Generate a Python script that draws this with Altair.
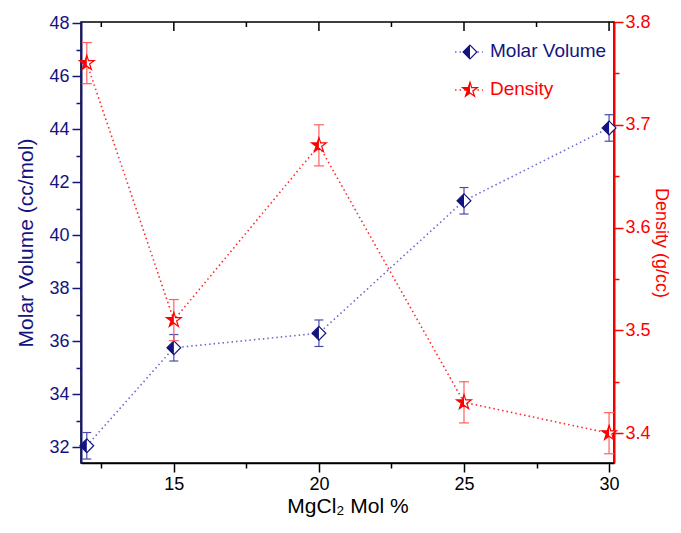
import altair as alt
import pandas as pd

# ---- data ----
mol_pct = [12, 15, 20, 25, 30]
molar_volume = [32.05, 35.75, 36.3, 41.3, 44.05]
molar_volume_err = [0.5, 0.5, 0.5, 0.5, 0.5]
density = [3.76, 3.51, 3.68, 3.43, 3.40]
density_err = [0.02, 0.02, 0.02, 0.02, 0.02]

x_ticks = [12.5, 15, 17.5, 20, 22.5, 25, 27.5, 30]
mv_ticks = list(range(32, 49))
den_ticks = [3.40, 3.45, 3.50, 3.55, 3.60, 3.65, 3.70, 3.75, 3.80]

df = pd.DataFrame({
    "x": mol_pct,
    "mv": molar_volume,
    "mv_lo": [v - e for v, e in zip(molar_volume, molar_volume_err)],
    "mv_hi": [v + e for v, e in zip(molar_volume, molar_volume_err)],
    "den": density,
    "den_lo": [v - e for v, e in zip(density, density_err)],
    "den_hi": [v + e for v, e in zip(density, density_err)],
})
ticks_df = pd.DataFrame({"t": x_ticks})
one = pd.DataFrame({"a": [0]})

NAVY = "#14147f"
NAVY_LINE = "#6a6ad0"
NAVY_ERR = "#4a4aae"
RED = "#ff0000"
RED_LINE = "#ff2a2a"
RED_ERR = "#ff6060"
FONT = "Liberation Sans"
LABEL_SIZE = 18
TITLE_SIZE = 21

DIAMOND = "M0,-1L1,0L0,1L-1,0Z"
DIAMOND_HALF = "M0,-1L-1,0L0,1Z"
STAR = ("M0,-1L0.225,-0.309L0.951,-0.309L0.363,0.118L0.588,0.809L0,0.382"
        "L-0.588,0.809L-0.363,0.118L-0.951,-0.309L-0.225,-0.309Z")
STAR_HALF = "M0,-1L0,0.382L-0.588,0.809L-0.363,0.118L-0.951,-0.309L-0.225,-0.309Z"

xs = alt.Scale(domain=[11.8, 30.17], nice=False, zero=False)
ys_mv = alt.Scale(domain=[31.4, 48.05], nice=False, zero=False)
ys_den = alt.Scale(domain=[3.371, 3.8], nice=False, zero=False)

x_axis = alt.Axis(
    values=x_ticks,
    labelExpr="datum.value % 5 === 0 ? datum.label : ''",
    tickSize={"condition": {"test": "datum.value % 5 === 0", "value": 9}, "value": 5},
    tickColor="black", tickWidth=1.5, domainColor="black", domainWidth=1.5,
    labelColor="black", labelFont=FONT, labelFontSize=LABEL_SIZE, labelPadding=3,
    labelFlush=False, labelOverlap=False, grid=False,
    title="MgCl₂ Mol %", titleFont=FONT, titleFontSize=TITLE_SIZE, titleFontWeight="normal",
    titleColor="black", titlePadding=2,
)
mv_axis = alt.Axis(
    orient="left", values=mv_ticks,
    labelExpr="datum.value % 2 === 0 ? datum.label : ''",
    tickSize={"condition": {"test": "datum.value % 2 === 0", "value": 9}, "value": 5},
    tickColor=NAVY, tickWidth=1.5, domainColor=NAVY, domainWidth=2,
    labelColor=NAVY, labelFont=FONT, labelFontSize=LABEL_SIZE, labelPadding=3,
    labelFlush=False, labelOverlap=False, grid=False,
    title="Molar Volume (cc/mol)", titleFont=FONT, titleFontSize=TITLE_SIZE,
    titleFontWeight="normal", titleColor=NAVY, titlePadding=12,
)
major_den = "abs(datum.value*10 - round(datum.value*10)) < 0.001"
den_axis = alt.Axis(
    orient="right", values=den_ticks,
    labelExpr=major_den + " ? format(datum.value, '.1f') : ''",
    tickSize={"condition": {"test": major_den, "value": 9}, "value": 5},
    tickColor=RED, tickWidth=1.5, domainColor=RED, domainWidth=2,
    labelColor=RED, labelFont=FONT, labelFontSize=LABEL_SIZE, labelPadding=2,
    labelFlush=False, labelOverlap=False, grid=False,
    title="Density (g/cc)", titleFont=FONT, titleFontSize=18,
    titleFontWeight="normal", titleColor=RED, titlePadding=1,
)

X = alt.X("x:Q", scale=xs, axis=x_axis)
X2 = alt.X2("x:Q")

# ---- molar volume group ----
base = alt.Chart(df)
mv_err = base.mark_rule(color=NAVY_ERR, strokeWidth=1.2).encode(
    x=X, y=alt.Y("mv_lo:Q", scale=ys_mv, axis=mv_axis), y2="mv_hi:Q")
mv_cap_hi = base.mark_rule(color=NAVY_ERR, strokeWidth=1.2, xOffset=-4.5, x2Offset=4.5).encode(
    x=X, x2=X2, y=alt.Y("mv_hi:Q", scale=ys_mv, axis=mv_axis))
mv_cap_lo = base.mark_rule(color=NAVY_ERR, strokeWidth=1.2, xOffset=-4.5, x2Offset=4.5).encode(
    x=X, x2=X2, y=alt.Y("mv_lo:Q", scale=ys_mv, axis=mv_axis))
mv_line = base.mark_line(color=NAVY_LINE, strokeDash=[1.5, 3], strokeWidth=1.6).encode(
    x=X, y=alt.Y("mv:Q", scale=ys_mv, axis=mv_axis))
mv_pt = base.mark_point(shape=DIAMOND, size=190, filled=True, fill="white",
                        stroke=NAVY, strokeWidth=1.2, opacity=1).encode(
    x=X, y=alt.Y("mv:Q", scale=ys_mv, axis=mv_axis))
mv_half = base.mark_point(shape=DIAMOND_HALF, size=190, filled=True, color=NAVY,
                          strokeWidth=0, opacity=1).encode(
    x=X, y=alt.Y("mv:Q", scale=ys_mv, axis=mv_axis))
mv_group = alt.layer(mv_err, mv_cap_hi, mv_cap_lo, mv_line, mv_pt, mv_half)

# ---- density group ----
den_err = base.mark_rule(color=RED_ERR, strokeWidth=1.2).encode(
    x=X, y=alt.Y("den_lo:Q", scale=ys_den, axis=den_axis), y2="den_hi:Q")
den_cap_hi = base.mark_rule(color=RED_ERR, strokeWidth=1.2, xOffset=-5, x2Offset=5).encode(
    x=X, x2=X2, y=alt.Y("den_hi:Q", scale=ys_den, axis=den_axis))
den_cap_lo = base.mark_rule(color=RED_ERR, strokeWidth=1.2, xOffset=-5, x2Offset=5).encode(
    x=X, x2=X2, y=alt.Y("den_lo:Q", scale=ys_den, axis=den_axis))
den_line = base.mark_line(color=RED_LINE, strokeDash=[1.5, 3], strokeWidth=1.6).encode(
    x=X, y=alt.Y("den:Q", scale=ys_den, axis=den_axis))
den_pt = base.mark_point(shape=STAR, size=240, filled=True, fill="white",
                         stroke=RED, strokeWidth=1.2, opacity=1).encode(
    x=X, y=alt.Y("den:Q", scale=ys_den, axis=den_axis))
den_half = base.mark_point(shape=STAR_HALF, size=240, filled=True, color=RED,
                           strokeWidth=0, opacity=1).encode(
    x=X, y=alt.Y("den:Q", scale=ys_den, axis=den_axis))
den_group = alt.layer(den_err, den_cap_hi, den_cap_lo, den_line, den_pt, den_half)

# ---- top axis ticks (inward) ----
top_ticks = alt.Chart(ticks_df).transform_calculate(
    len="datum.t % 5 === 0 ? 9 : 5"
).mark_rule(color="black", strokeWidth=1.5).encode(
    x=alt.X("t:Q", scale=xs, axis=x_axis),
    y=alt.Y("len:Q", scale=None, axis=None),
    y2=alt.value(0),
)

# ---- legend ----
leg = alt.Chart(one)
leg_mv_line = leg.mark_rule(color=NAVY_LINE, strokeDash=[1.5, 3], strokeWidth=1.6).encode(
    x=alt.value(374), x2=alt.value(402), y=alt.value(30))
leg_mv_pt = leg.mark_point(shape=DIAMOND, size=190, filled=True, fill="white",
                           stroke=NAVY, strokeWidth=1.2, opacity=1).encode(
    x=alt.value(389), y=alt.value(30))
leg_mv_half = leg.mark_point(shape=DIAMOND_HALF, size=190, filled=True, color=NAVY,
                             strokeWidth=0, opacity=1).encode(
    x=alt.value(389), y=alt.value(30))
leg_mv_txt = leg.mark_text(text="Molar Volume", align="left", baseline="middle",
                           font=FONT, fontSize=19, color=NAVY).encode(
    x=alt.value(409), y=alt.value(29))
leg_den_line = leg.mark_rule(color=RED_LINE, strokeDash=[1.5, 3], strokeWidth=1.6).encode(
    x=alt.value(374), x2=alt.value(402), y=alt.value(68))
leg_den_pt = leg.mark_point(shape=STAR, size=240, filled=True, fill="white",
                            stroke=RED, strokeWidth=1.2, opacity=1).encode(
    x=alt.value(389), y=alt.value(68))
leg_den_half = leg.mark_point(shape=STAR_HALF, size=240, filled=True, color=RED,
                              strokeWidth=0, opacity=1).encode(
    x=alt.value(389), y=alt.value(68))
leg_den_txt = leg.mark_text(text="Density", align="left", baseline="middle",
                            font=FONT, fontSize=19, color=RED).encode(
    x=alt.value(409), y=alt.value(67))

chart = alt.layer(
    mv_group, den_group, top_ticks,
    leg_mv_line, leg_mv_pt, leg_mv_half, leg_mv_txt,
    leg_den_line, leg_den_pt, leg_den_half, leg_den_txt,
).resolve_scale(y="independent").properties(
    width=533, height=441,
    autosize=alt.AutoSizeParams(type="none"),
    padding={"left": 73, "top": 14, "right": 59, "bottom": 55},
    background="white",
).configure_view(stroke="black", strokeWidth=1.5)

chart.save("out.html", embed_options={"renderer": "svg", "actions": False})
